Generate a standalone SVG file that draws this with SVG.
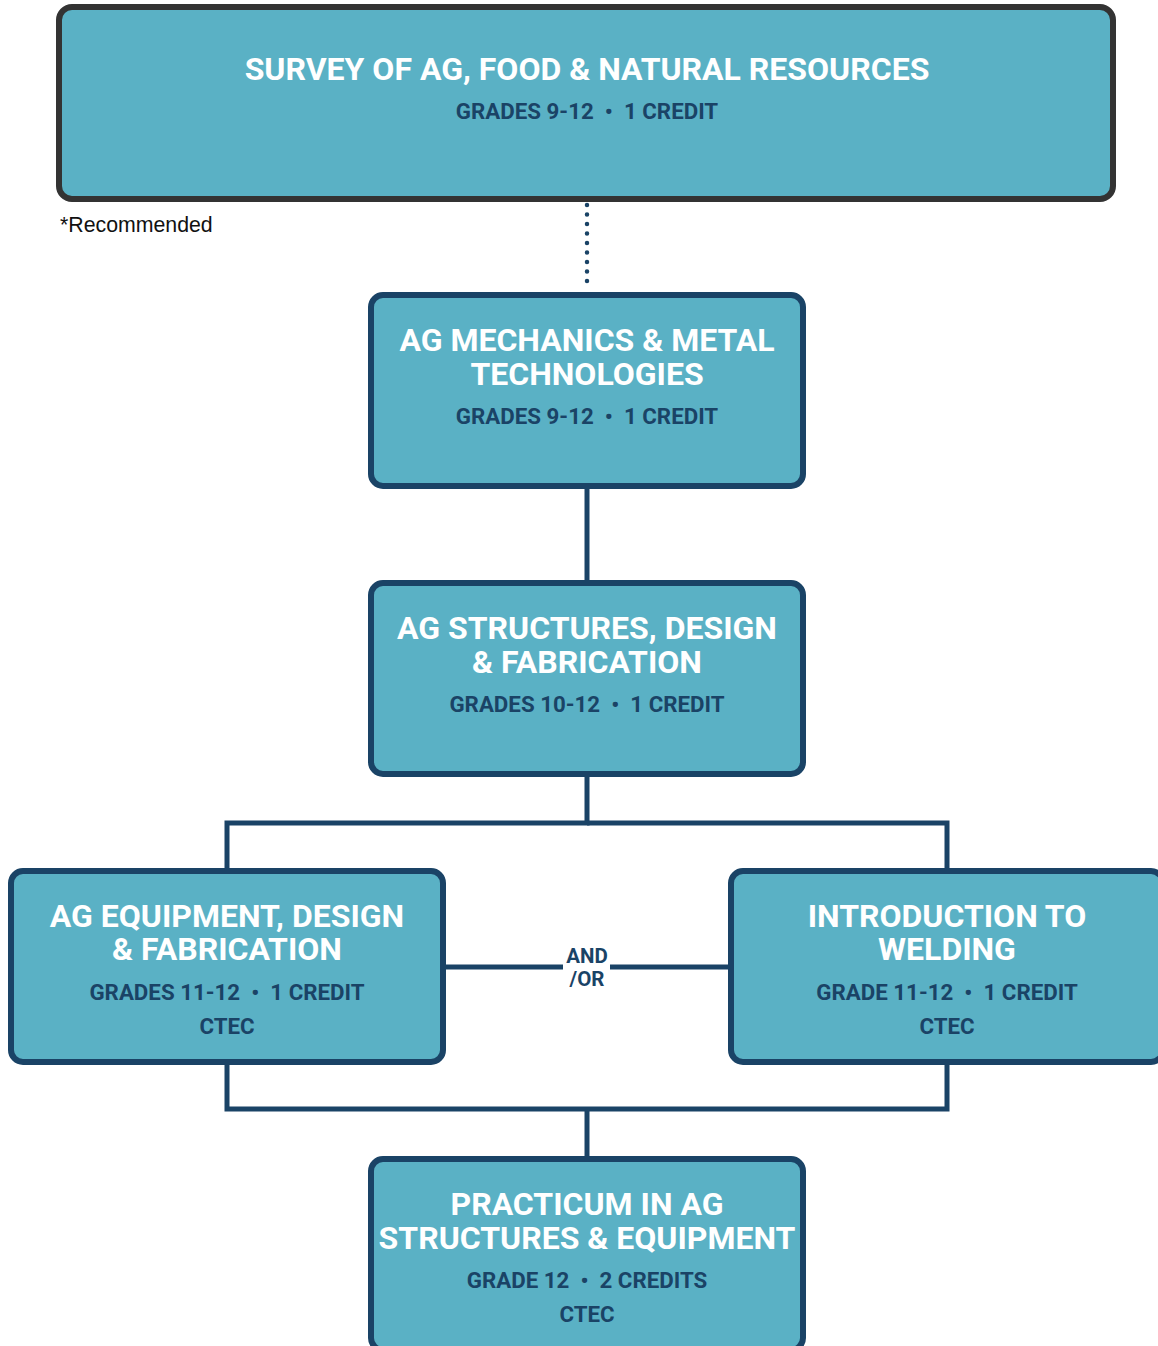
<svg xmlns="http://www.w3.org/2000/svg" width="1158" height="1346" viewBox="0 0 1158 1346">
<style>
.box{fill:#5ab1c5;stroke:#1a4366;stroke-width:6}
.top{fill:#5ab1c5;stroke:#333333;stroke-width:6}
.t{font-family:Roboto,"Liberation Sans",sans-serif;font-weight:bold;font-size:32px;fill:#ffffff;text-anchor:middle}
.s{font-family:Roboto,"Liberation Sans",sans-serif;font-weight:bold;font-size:22.3px;fill:#1a4366;text-anchor:middle;white-space:pre}
.c{fill:none;stroke:#1a4366;stroke-width:5}
</style>
<rect width="1158" height="1346" fill="#ffffff"/>
<g id="connectors">
<line x1="587" y1="205" x2="587" y2="284" stroke="#1a4366" stroke-width="4.5" stroke-linecap="round" stroke-dasharray="0 9.5"/>
<line class="c" x1="587" y1="488" x2="587" y2="582"/>
<polyline class="c" points="587,776 587,823 227,823 227,869"/>
<polyline class="c" points="587,823 947,823 947,869"/>
<line class="c" x1="445" y1="967" x2="563" y2="967"/>
<line class="c" x1="610" y1="967" x2="729" y2="967"/>
<polyline class="c" points="227,1064 227,1109 947,1109 947,1064"/>
<line class="c" x1="587" y1="1109" x2="587" y2="1157"/>
<text class="s" x="587" y="963" style="font-size:20.5px">AND</text>
<text class="s" x="587" y="986" style="font-size:20.5px">/OR</text>
</g>
<g id="survey">
<rect class="top" x="59" y="7" width="1054" height="192" rx="13"/>
<text class="t" x="587" y="80">SURVEY OF AG, FOOD &amp; NATURAL RESOURCES</text>
<text class="s" x="587" y="119" xml:space="preserve">GRADES 9-12  •  1 CREDIT</text>
</g>
<text x="60" y="232" font-family="Liberation Sans, Arial, sans-serif" font-size="21.3" fill="#111111">*Recommended</text>
<g id="mechanics">
<rect class="box" x="371" y="295" width="432" height="191" rx="12"/>
<text class="t" x="587" y="351">AG MECHANICS &amp; METAL</text>
<text class="t" x="587" y="385">TECHNOLOGIES</text>
<text class="s" x="587" y="424" xml:space="preserve">GRADES 9-12  •  1 CREDIT</text>
</g>
<g id="structures">
<rect class="box" x="371" y="583" width="432" height="191" rx="12"/>
<text class="t" x="587" y="639">AG STRUCTURES, DESIGN</text>
<text class="t" x="587" y="673">&amp; FABRICATION</text>
<text class="s" x="587" y="712" xml:space="preserve">GRADES 10-12  •  1 CREDIT</text>
</g>
<g id="equipment">
<rect class="box" x="11" y="871" width="432" height="191" rx="12"/>
<text class="t" x="227" y="927">AG EQUIPMENT, DESIGN</text>
<text class="t" x="227" y="960">&amp; FABRICATION</text>
<text class="s" x="227" y="1000" xml:space="preserve">GRADES 11-12  •  1 CREDIT</text>
<text class="s" x="227" y="1034">CTEC</text>
</g>
<g id="welding">
<rect class="box" x="731" y="871" width="432" height="191" rx="12"/>
<text class="t" x="947" y="927">INTRODUCTION TO</text>
<text class="t" x="947" y="960">WELDING</text>
<text class="s" x="947" y="1000" xml:space="preserve">GRADE 11-12  •  1 CREDIT</text>
<text class="s" x="947" y="1034">CTEC</text>
</g>
<g id="practicum">
<rect class="box" x="371" y="1159" width="432" height="191" rx="12"/>
<text class="t" x="587" y="1215">PRACTICUM IN AG</text>
<text class="t" x="587" y="1249">STRUCTURES &amp; EQUIPMENT</text>
<text class="s" x="587" y="1288" xml:space="preserve">GRADE 12  •  2 CREDITS</text>
<text class="s" x="587" y="1322">CTEC</text>
</g>
</svg>
